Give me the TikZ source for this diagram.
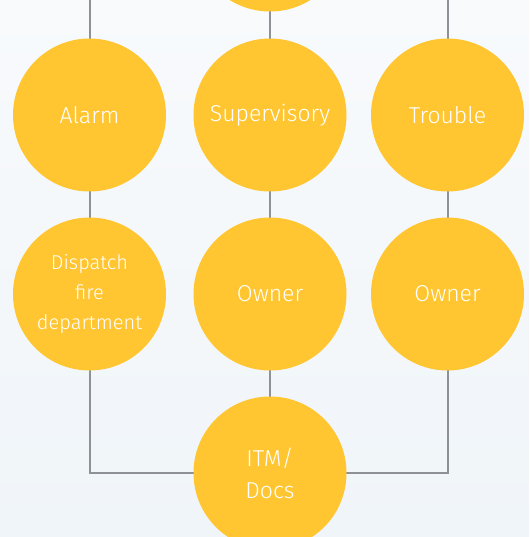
\documentclass[tikz,border=0pt]{standalone}
\usepackage{fontspec}
\setmainfont{Fira Sans}[UprightFont=* Light]
\begin{document}
\begin{tikzpicture}[x=1pt,y=-1pt,
  bubble/.style={circle,fill=bubbleyellow,draw=none,minimum size=153pt,inner sep=0pt,
    text=white,font=\fontsize{23}{30}\selectfont,align=center},
  small/.style={font=\fontsize{20}{30}\selectfont},
  link/.style={draw=linkgray,line width=2pt}]
\definecolor{bubbleyellow}{HTML}{FFC631}
\definecolor{linkgray}{HTML}{8E9297}
\definecolor{bgtop}{HTML}{F8FAFC}
\definecolor{bgbot}{HTML}{F0F5F9}
% background and bounding box
\shade[top color=bgtop,bottom color=bgbot] (0,0) rectangle (529,537);
\useasboundingbox (0,0) rectangle (529,537);
% end points of the lines leaving the top edge
\coordinate (topL) at (89.5,0);
\coordinate (topR) at (447.5,0);
\coordinate (botL) at (89.5,473);
\coordinate (botR) at (447.5,473);
% connectors (drawn beneath the circles)
\path[link] (topL) -- (89.5,294);
\path[link] (topR) -- (447.5,294);
\path[link] (270,-65) -- (270,473);
\path[link] (89.5,294) -- (botL) -- (botR) -- (447.5,294);
% circles
\node[bubble] (top) at (270,-65) {};
\node[bubble] (alarm) at (89.5,115) {Alarm};
\node[bubble] (sup) at (270,115) {Supervisory};
\node[bubble] (trouble) at (447.5,115) {Trouble};
\node[bubble,small] (dispatch) at (89.5,294) {Dispatch\\fire\\department};
\node[bubble] (owner1) at (270,294) {Owner};
\node[bubble] (owner2) at (447.5,294) {Owner};
\node[bubble,font=\fontsize{23}{32}\selectfont] (itm) at (270,473) {ITM/\\Docs};
\end{tikzpicture}
\end{document}
